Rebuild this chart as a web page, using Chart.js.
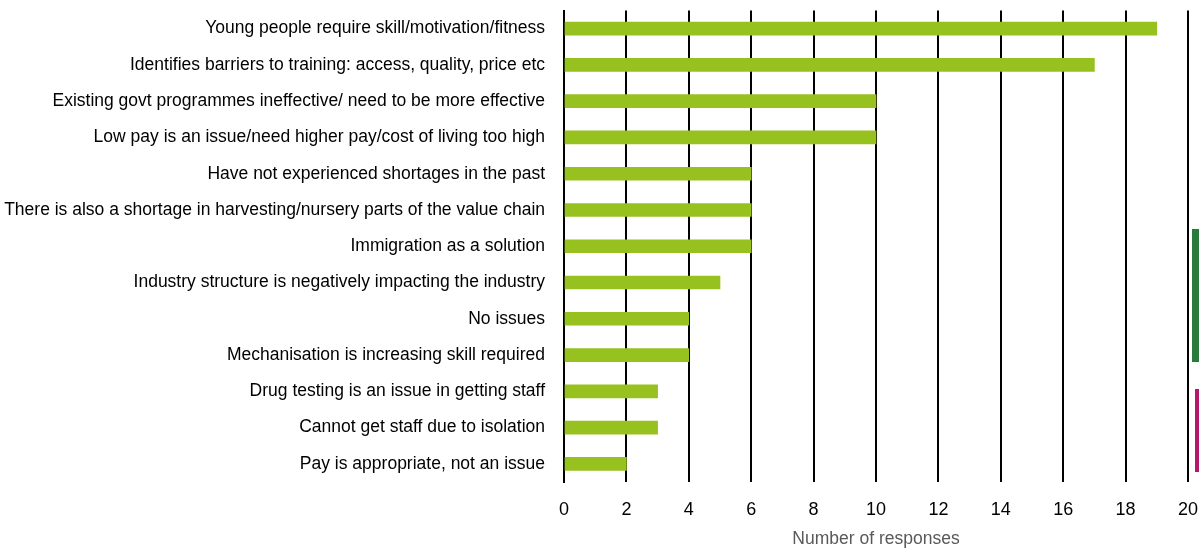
<!DOCTYPE html>
<html>
<head>
<meta charset="utf-8">
<script src="https://cdn.jsdelivr.net/npm/chart.js@4/dist/chart.umd.min.js"></script>
<style>
html,body{margin:0;padding:0;background:#fff;}
#wrap{position:relative;width:1199px;height:550px;}
#c{position:absolute;left:0;top:0;}
.deco{position:absolute;}
</style>
</head>
<body>
<div id="wrap">
<canvas id="c" width="1199" height="550"></canvas>
<div class="deco" style="left:1192px;top:229px;width:7px;height:133px;background:#2a7a3c;"></div>
<div class="deco" style="left:1195px;top:389px;width:4px;height:83px;background:#b5176b;"></div>
</div>
<script>
const categories = [
  "Young people require skill/motivation/fitness",
  "Identifies barriers to training: access, quality, price etc",
  "Existing govt programmes ineffective/ need to be more effective",
  "Low pay is an issue/need higher pay/cost of living too high",
  "Have not experienced shortages in the past",
  "There is also a shortage in harvesting/nursery parts of the value chain",
  "Immigration as a solution",
  "Industry structure is negatively impacting the industry",
  "No issues",
  "Mechanisation is increasing skill required",
  "Drug testing is an issue in getting staff",
  "Cannot get staff due to isolation",
  "Pay is appropriate, not an issue"
];
const responses = [19, 17, 10, 10, 6, 6, 6, 5, 4, 4, 3, 3, 2];
const xTicks = [0, 2, 4, 6, 8, 10, 12, 14, 16, 18, 20];
const axisTitle = "Number of responses";

new Chart(document.getElementById('c'), {
  type: 'bar',
  data: {
    labels: categories,
    datasets: [{
      data: responses,
      backgroundColor: '#97c11f',
      borderWidth: 0,
      barThickness: 13
    }]
  },
  options: {
    indexAxis: 'y',
    responsive: false,
    animation: false,
    layout: { padding: { top: 9, right: 11, left: 0, bottom: 0 } },
    plugins: { legend: { display: false }, tooltip: { enabled: false } },
    scales: {
      x: {
        min: xTicks[0], max: xTicks[xTicks.length - 1],
        afterBuildTicks: s => { s.ticks = xTicks.map(v => ({ value: v })); },
        grid: { color: '#000', lineWidth: 2, drawTicks: true, tickLength: 17, tickColor: 'rgba(0,0,0,0)' },
        border: { display: false },
        ticks: { color: '#000', padding: 0, font: { family: "'Liberation Sans', Arial", size: 18 } },
        title: { display: true, text: axisTitle, color: '#595959', padding: { top: 4, bottom: 0 }, font: { family: "'Liberation Sans', Arial", size: 17.5 } },
        afterFit: s => { s.height = 68; }
      },
      y: {
        grid: { display: true, drawOnChartArea: false, drawTicks: true, tickLength: 19, tickColor: 'rgba(0,0,0,0)' },
        border: { display: true, color: '#000', width: 2 },
        ticks: { color: '#000', padding: 0, autoSkip: false, font: { family: "'Liberation Sans', Arial", size: 17.5 } },
        afterFit: s => { s.width = 564; }
      }
    }
  }
});
</script>
</body>
</html>
